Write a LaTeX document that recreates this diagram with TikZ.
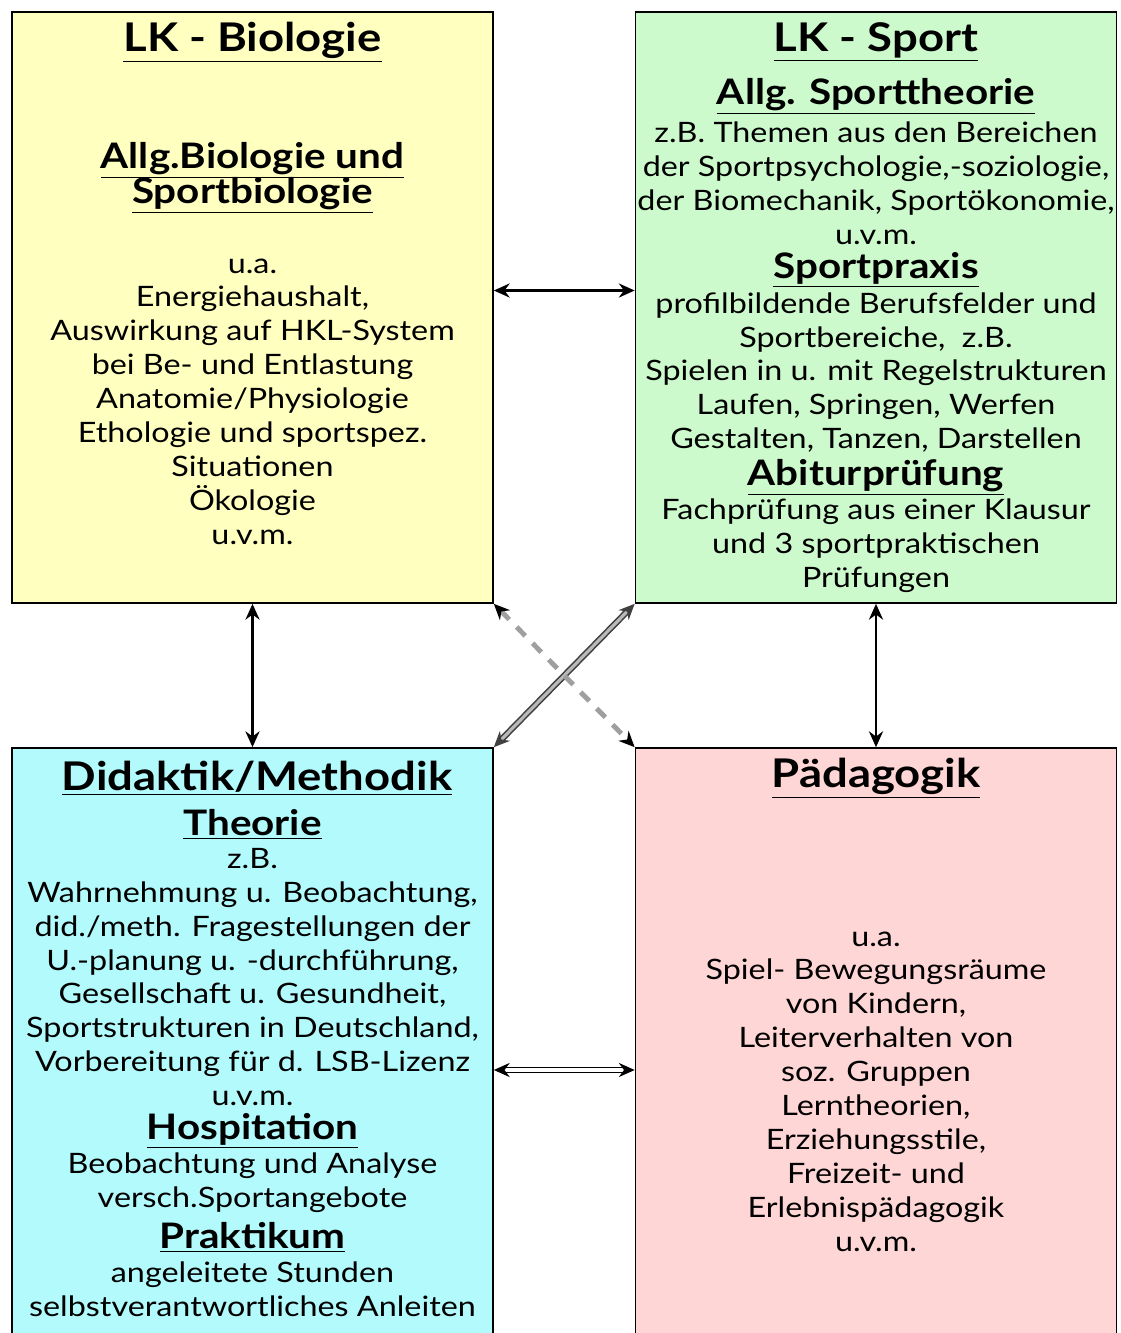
\documentclass[tikz,border=0pt]{standalone}
\usepackage{fontspec}
\setmainfont{Lato}[FakeStretch=1.15]
\usetikzlibrary{arrows.meta}
\definecolor{biogelb}{RGB}{255,255,192}
\definecolor{sportgruen}{RGB}{204,250,204}
\definecolor{didaktuerkis}{RGB}{178,250,252}
\definecolor{paedrosa}{RGB}{255,214,214}
\newcommand{\hd}[1]{\underline{\textbf{#1}}}
\begin{document}
\begin{tikzpicture}[x=0.02cm,y=-0.02cm,
  fach/.style={draw=black,line width=1pt,inner sep=0pt,minimum width=9.62cm},
  txt/.style={align=center,font=\fontsize{16}{19.3}\selectfont},
  titel/.style={font=\fontsize{22.5}{26}\selectfont},
  unter/.style={align=center,font=\fontsize{20}{21}\selectfont},
  pfeil/.style={{Stealth[length=9pt,width=8pt]}-{Stealth[length=9pt,width=8pt]},line width=1.5pt}]
\clip (0,0) rectangle (1121,1333);
% Kaesten
\node[fach,fill=biogelb,minimum height=11.82cm] (bio) at (252.5,307.5) {};
\node[fach,fill=sportgruen,minimum height=11.82cm] (sport) at (876,307.5) {};
\node[fach,fill=didaktuerkis,minimum height=12cm] (didak) at (252.5,1048) {};
\node[fach,fill=paedrosa,minimum height=12cm] (paed) at (876,1048) {};
% LK Biologie
\node[titel] (biotitel) at (252.5,42) {\hd{LK - Biologie}};
\node[unter] (biounter) at (252.5,178) {\hd{Allg.Biologie und}\\[-1pt]\hd{Sportbiologie}};
\node[txt] (biotext) at (252.5,401.5) {u.a.\\Energiehaushalt,\\Auswirkung auf HKL-System\\bei Be- und Entlastung\\Anatomie/Physiologie\\Ethologie und sportspez.\\Situationen\\Ökologie\\u.v.m.};
% LK Sport
\node[titel] (sporttitel) at (876,42) {\hd{LK - Sport}};
\node[unter] (theorie) at (876,96) {\hd{Allg. Sporttheorie}};
\node[txt] (theorietext) at (876,183) {z.B. Themen aus den Bereichen\\der Sportpsychologie,-soziologie,\\der Biomechanik, Sportökonomie,\\u.v.m.};
\node[unter] (praxis) at (876,270) {\hd{Sportpraxis}};
\node[txt] (praxistext) at (876,372.5) {profilbildende Berufsfelder und\\Sportbereiche,\ \ z.B.\\Spielen in u. mit Regelstrukturen\\Laufen, Springen, Werfen\\Gestalten, Tanzen, Darstellen};
\node[unter] (abitur) at (876,477) {\hd{Abiturprüfung}};
\node[txt] (abiturtext) at (876,546) {Fachprüfung aus einer Klausur\\und 3 sportpraktischen\\Prüfungen};
% Didaktik/Methodik
\node[titel] (didaktitel) at (257,778) {\hd{Didaktik/Methodik}};
\node[unter] (dtheorie) at (252.5,824) {\hd{Theorie}};
\node[txt] (dtheorietext) at (252.5,977) {z.B.\\Wahrnehmung u. Beobachtung,\\did./meth. Fragestellungen der\\U.-planung u. -durchführung,\\Gesellschaft u. Gesundheit,\\Sportstrukturen in Deutschland,\\Vorbereitung für d. LSB-Lizenz\\u.v.m.};
\node[unter] (hospi) at (252.5,1131) {\hd{Hospitation}};
\node[txt] (hospitext) at (252.5,1183) {Beobachtung und Analyse\\versch.Sportangebote};
\node[unter] (prakt) at (252.5,1237) {\hd{Praktikum}};
\node[txt] (prakttext) at (252.5,1289) {angeleitete Stunden\\selbstverantwortliches Anleiten};
% Paedagogik
\node[titel] (paedtitel) at (876,778) {\hd{Pädagogik}};
\node[txt] (paedtext) at (876,1091.5) {u.a.\\Spiel- Bewegungsräume\\von Kindern,\\Leiterverhalten von\\soz. Gruppen\\Lerntheorien,\\Erziehungsstile,\\Freizeit- und\\Erlebnispädagogik\\u.v.m.};
% Pfeile
\draw[pfeil] ([yshift=0.34cm]bio.east) -- ([yshift=0.34cm]sport.west);
\draw[pfeil] (bio.south) -- (didak.north);
\draw[pfeil] (sport.south) -- (paed.north);
\draw[pfeil,draw=black!75,double=gray!55,double distance=1.8pt,line width=0.9pt] (sport.south west) -- (didak.north east);
\draw[{Stealth[length=9pt,width=8pt,black]}-{Stealth[length=9pt,width=8pt,black]},draw=gray!75,line width=2.8pt,dash pattern=on 7pt off 6pt] (bio.south east) -- (paed.north west);
\draw[pfeil,double,double distance=1.8pt,line width=1pt] ([yshift=-0.44cm]didak.east) -- ([yshift=-0.44cm]paed.west);
\end{tikzpicture}
\end{document}
